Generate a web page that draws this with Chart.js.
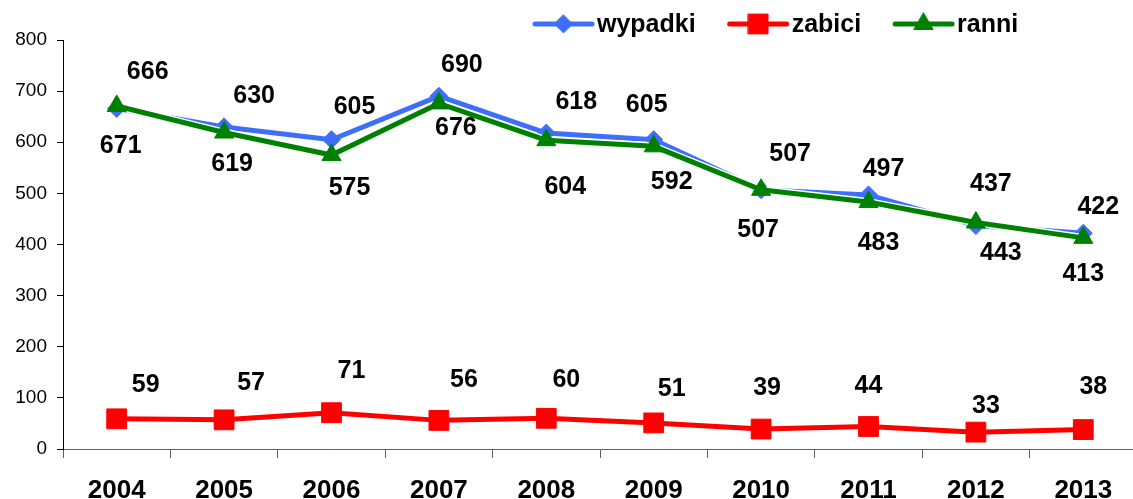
<!DOCTYPE html>
<html>
<head>
<meta charset="utf-8">
<script src="https://cdn.jsdelivr.net/npm/chart.js@4.4.0/dist/chart.umd.min.js"></script>
<style>
  html, body { margin: 0; padding: 0; background: #fff; overflow: hidden; }
  #chart { display: block; }
</style>
</head>
<body>
<canvas id="chart" width="1152" height="499"></canvas>
<script>
// data
const YEARS = ["2004", "2005", "2006", "2007", "2008", "2009", "2010", "2011", "2012", "2013"]
const WYPADKI = [666, 630, 605, 690, 618, 605, 507, 497, 437, 422]
const ZABICI = [59, 57, 71, 56, 60, 51, 39, 44, 33, 38]
const RANNI = [671, 619, 575, 676, 604, 592, 507, 483, 443, 413]
const Y_MIN = 0
const Y_MAX = 800
const Y_STEP = 100

// where each value label sits relative to its point (px)
const WYPADKI_LABEL_OFF = [[31, -36], [30, -31], [23, -33], [23, -31], [30, -31], [-7, -35], [29, -36], [15, -26], [15, -41], [15, -26]]
const ZABICI_LABEL_OFF = [[29, -34], [27, -37], [20, -42], [25, -40], [20, -38], [18, -34], [6, -41], [0, -40], [10, -26], [10, -42]]
const RANNI_LABEL_OFF = [[4, 40], [8, 32], [18, 33], [17, 25], [19, 47], [18, 36], [-3, 40], [10, 41], [25, 31], [0, 36]]

const FONT = "'Liberation Sans', Arial, sans-serif"
const COLORS = { wypadki: "#3d6ffc", zabici: "#ff0000", ranni: "#008000" }

function markerPath(ctx, style, r, x, y) {
  ctx.beginPath()
  if (style === "rect") {
    const s = r * Math.SQRT1_2
    ctx.rect(x - s, y - s, 2 * s, 2 * s)
  } else if (style === "rectRot") {
    ctx.moveTo(x, y - r)
    ctx.lineTo(x + r, y)
    ctx.lineTo(x, y + r)
    ctx.lineTo(x - r, y)
    ctx.closePath()
  } else {
    const a = (2 * Math.PI) / 3
    ctx.moveTo(x, y - r)
    ctx.lineTo(x + Math.sin(a) * r, y - Math.cos(a) * r)
    ctx.lineTo(x + Math.sin(2 * a) * r, y - Math.cos(2 * a) * r)
    ctx.closePath()
  }
}

// thin white edge under each line, like the original
const outlinePlugin = {
  id: "outline",
  beforeDatasetDraw(chart, args) {
    const pts = args.meta.data
    const ds = chart.data.datasets[args.index]
    const ctx = chart.ctx
    ctx.save()
    ctx.strokeStyle = "#ffffff"
    ctx.lineWidth = ds.borderWidth + 3
    ctx.lineJoin = "round"
    ctx.beginPath()
    pts.forEach((p, i) => (i ? ctx.lineTo(p.x, p.y) : ctx.moveTo(p.x, p.y)))
    ctx.stroke()
    ctx.restore()
  },
}

const valueLabelPlugin = {
  id: "valueLabels",
  afterDatasetsDraw(chart) {
    const ctx = chart.ctx
    ctx.save()
    ctx.font = "bold 25px " + FONT
    ctx.fillStyle = "#000"
    ctx.textAlign = "center"
    ctx.textBaseline = "middle"
    chart.data.datasets.forEach((ds, di) => {
      const meta = chart.getDatasetMeta(di)
      meta.data.forEach((p, i) => {
        const off = ds.labelOffsets[i]
        ctx.fillText(String(ds.data[i]), p.x + off[0], p.y + off[1])
      })
    })
    ctx.restore()
  },
}

const legendPlugin = {
  id: "lineLegend",
  afterDraw(chart) {
    const ctx = chart.ctx
    let x = 535
    const y = 24
    ctx.save()
    ctx.font = "bold 25px " + FONT
    ctx.textBaseline = "middle"
    ctx.textAlign = "left"
    ctx.lineCap = "round"
    chart.data.datasets.forEach((ds) => {
      ctx.strokeStyle = ds.borderColor
      ctx.lineWidth = ds.borderWidth
      ctx.beginPath()
      ctx.moveTo(x, y)
      ctx.lineTo(x + 57, y)
      ctx.stroke()
      ctx.fillStyle = ds.borderColor
      ctx.lineWidth = 1
      markerPath(ctx, ds.pointStyle, ds.pointRadius, x + 28.5, y)
      ctx.fill()
      ctx.stroke()
      ctx.fillStyle = "#000"
      ctx.fillText(ds.label, x + 62, y + 1)
      x += 62 + ctx.measureText(ds.label).width + 34
    })
    ctx.restore()
  },
}

const ctx = document.getElementById("chart").getContext("2d")
new Chart(ctx, {
  type: "line",
  data: {
    labels: YEARS,
    datasets: [
      {
        label: "wypadki",
        data: WYPADKI,
        labelOffsets: WYPADKI_LABEL_OFF,
        borderColor: COLORS.wypadki,
        backgroundColor: COLORS.wypadki,
        borderWidth: 5,
        pointStyle: "rectRot",
        pointRadius: 9,
        pointBorderWidth: 1,
        order: 1,
      },
      {
        label: "zabici",
        data: ZABICI,
        labelOffsets: ZABICI_LABEL_OFF,
        borderColor: COLORS.zabici,
        backgroundColor: COLORS.zabici,
        borderWidth: 5,
        pointStyle: "rect",
        pointRadius: 14,
        pointBorderWidth: 1,
        order: 2,
      },
      {
        label: "ranni",
        data: RANNI,
        labelOffsets: RANNI_LABEL_OFF,
        borderColor: COLORS.ranni,
        backgroundColor: COLORS.ranni,
        borderWidth: 5,
        pointStyle: "triangle",
        pointRadius: 11,
        pointBorderWidth: 1,
        order: 0,
      },
    ],
  },
  options: {
    responsive: false,
    animation: false,
    devicePixelRatio: 1,
    layout: { padding: { top: 40, left: 0, right: 0, bottom: 0 } },
    elements: { line: { tension: 0 } },
    scales: {
      x: {
        offset: true,
        grid: {
          offset: true,
          drawOnChartArea: false,
          drawTicks: true,
          tickLength: 9,
          color: "#606060",
        },
        border: { color: "#606060", width: 1 },
        ticks: {
          color: "#000",
          padding: 20,
          font: { family: FONT, size: 26, weight: "bold", lineHeight: 1 },
          maxRotation: 0,
          autoSkip: false,
        },
        afterFit(scale) {
          scale.height = 50
          scale.paddingLeft = 0
          scale.paddingRight = 0
        },
      },
      y: {
        min: Y_MIN,
        max: Y_MAX,
        grid: {
          drawOnChartArea: false,
          drawTicks: true,
          tickLength: 6,
          color: "#000",
        },
        border: { color: "#000", width: 1 },
        ticks: {
          stepSize: Y_STEP,
          color: "#000",
          padding: 10,
          font: { family: FONT, size: 19 },
        },
        afterFit(scale) { scale.width = 63 },
      },
    },
    plugins: {
      legend: { display: false },
      tooltip: { enabled: false },
    },
  },
  plugins: [outlinePlugin, valueLabelPlugin, legendPlugin],
})
</script>
</body>
</html>
